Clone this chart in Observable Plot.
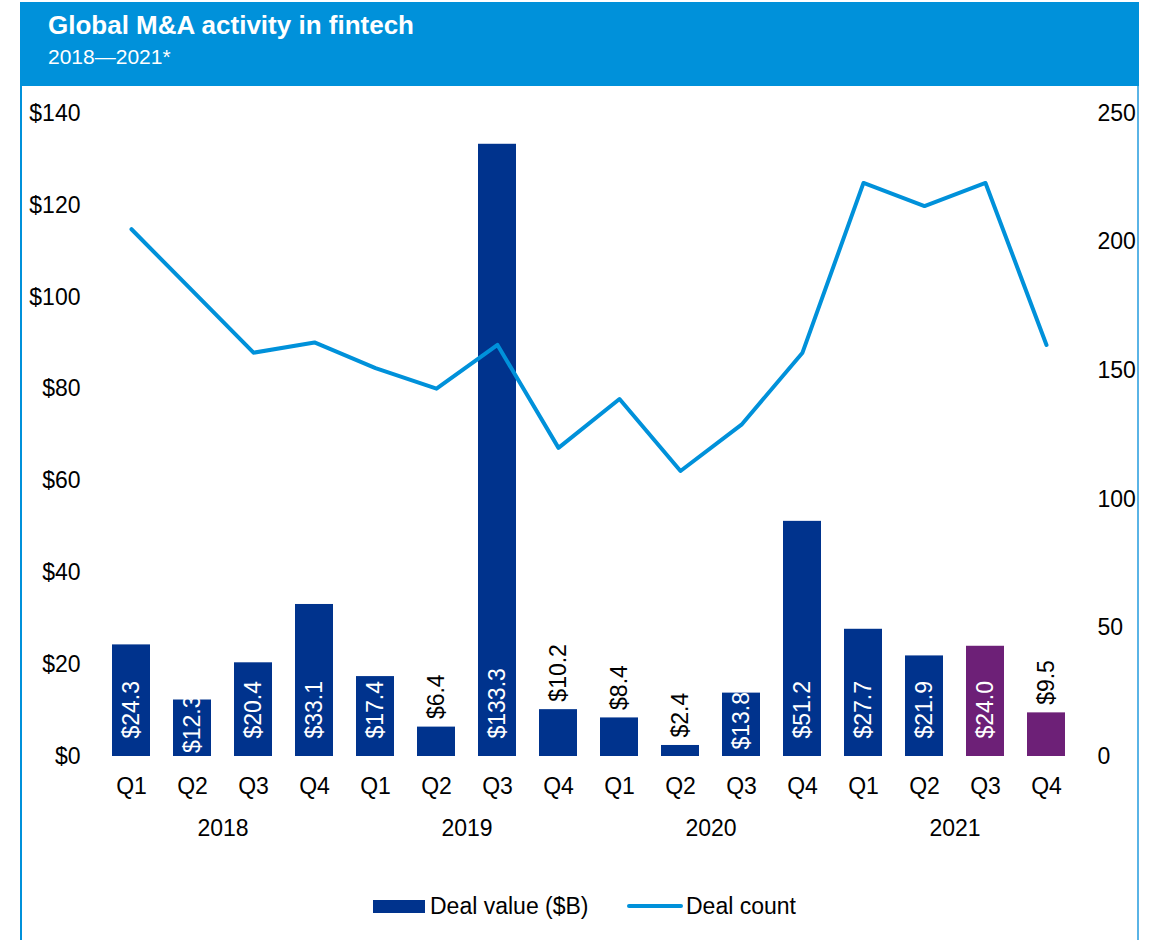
<!DOCTYPE html>
<html>
<head>
<meta charset="utf-8">
<script src="https://cdn.jsdelivr.net/npm/d3@7"></script>
<script src="https://cdn.jsdelivr.net/npm/@observablehq/plot@0.6"></script>
<style>
  html, body { margin: 0; padding: 0; background: #fff; width: 1158px; height: 940px; overflow: hidden; }
  body { position: relative; font-family: "Liberation Sans", Arial, sans-serif; }
  #header { position: absolute; left: 20px; top: 2px; width: 1119px; height: 84px; background: #0091DA; color: #fff; }
  #title { position: absolute; left: 28px; top: 8px; font-size: 26px; font-weight: bold; white-space: nowrap; }
  #subtitle { position: absolute; left: 28px; top: 43px; font-size: 21px; white-space: nowrap; }
  #borderL { position: absolute; left: 20px; top: 86px; width: 1.5px; height: 854px; background: #0091DA; }
  #borderR { position: absolute; left: 1137px; top: 86px; width: 2px; height: 854px; background: #5AB4E6; }
  #chart { position: absolute; left: 0; top: 87px; }
  #legend { position: absolute; left: 0; top: 893px; width: 1158px; height: 30px; font-size: 23px; color: #000; }
  .sw { position: absolute; }
  .lt { position: absolute; top: 0px; white-space: nowrap; line-height: 26px; }
</style>
</head>
<body>
<div id="header"><div id="title"></div><div id="subtitle"></div></div>
<div id="borderL"></div><div id="borderR"></div>
<div id="chart"></div>
<div id="legend"></div>
<script>
// ---- data ----
const titleText = "Global M&A activity in fintech";
const subtitleText = "2018\u20142021*";
const years = ["2018", "2019", "2020", "2021"];
const quarters = ["Q1", "Q2", "Q3", "Q4"];
const dealValue = [24.3, 12.3, 20.4, 33.1, 17.4, 6.4, 133.3, 10.2, 8.4, 2.4, 13.8, 51.2, 27.7, 21.9, 24.0, 9.5];
const dealCount = [205, 181, 157, 161, 151, 143, 160, 120, 139, 111, 129, 157, 223, 214, 223, 160];
const highlighted = ["2021 Q3", "2021 Q4"];
const valueTicks = [0, 20, 40, 60, 80, 100, 120, 140];
const countTicks = [0, 50, 100, 150, 200, 250];
const legendLabels = ["Deal value ($B)", "Deal count"];

// ---- styles ----
const BLUE = "#00338D", PURPLE = "#6D2077", LINE = "#0091DA";
const FONT = "Liberation Sans, Arial, sans-serif";
const FS = 23;
const W = 1158, H = 760, ML = 89, MR = 70, MT = 26, MB = 91, PAD = 0.377;
const valueMax = 140, countMax = 250;

const periods = years.flatMap(y => quarters.map(q => `${y} ${q}`));
const data = periods.map((p, i) => ({period: p, value: dealValue[i], count: dealCount[i]}));
const step = (W - ML - MR) / (periods.length + PAD);
const fmt = v => "$" + v.toFixed(1);

document.getElementById("title").textContent = titleText;
document.getElementById("subtitle").textContent = subtitleText;

const plot = Plot.plot({
  width: W, height: H,
  marginLeft: ML, marginRight: MR, marginTop: MT, marginBottom: MB,
  style: {fontFamily: FONT, fontSize: FS + "px", color: "#000", background: "transparent"},
  x: {type: "band", domain: periods, padding: PAD},
  y: {domain: [0, valueMax]},
  marks: [
    Plot.barY(data, {x: "period", y: "value", fill: d => highlighted.includes(d.period) ? PURPLE : BLUE}),
    Plot.line(data, {x: "period", y: d => d.count * valueMax / countMax, stroke: LINE, strokeWidth: 4, strokeLinejoin: "round", strokeLinecap: "round"}),
    // labels inside the tall bars (from the base)
    Plot.text(data.filter(d => d.value >= 17), {x: "period", y: 0, text: d => fmt(d.value), rotate: -90, textAnchor: "start", dy: -18, fill: "#fff", fontSize: FS}),
    // labels inside the medium bars (centred)
    Plot.text(data.filter(d => d.value > 11 && d.value < 17), {x: "period", y: d => d.value / 2, text: d => fmt(d.value), rotate: -90, textAnchor: "middle", dy: -4, fill: "#fff", fontSize: FS}),
    // labels above small bars
    Plot.text(data.filter(d => d.value <= 11), {x: "period", y: "value", text: d => fmt(d.value), rotate: -90, textAnchor: "start", dy: -8, fill: "#000", fontSize: FS}),
    Plot.axisX({tickSize: 0, tickPadding: 21, tickFormat: d => d.split(" ")[1], fontSize: FS, label: null}),
    Plot.text(years, {x: y => `${y} Q2`, y: 0, dx: step / 2, dy: 72, text: d => d, fontSize: FS, fill: "#000", lineAnchor: "middle"}),
    Plot.axisY(valueTicks, {anchor: "left", tickSize: 0, tickPadding: 9, tickFormat: d => "$" + d, fontSize: FS, label: null}),
    Plot.axisY(countTicks.map(c => c * valueMax / countMax), {anchor: "right", tickSize: 0, tickPadding: 9, tickFormat: d => String(Math.round(d * countMax / valueMax)), fontSize: FS, label: null})
  ]
});
document.getElementById("chart").appendChild(plot);

// ---- legend ----
const lg = document.getElementById("legend");
lg.innerHTML = `
  <div class="sw" style="left:373px; top:7px; width:52px; height:13px; background:${BLUE}"></div>
  <div class="lt" style="left:430px;">${legendLabels[0]}</div>
  <svg class="sw" style="left:626px; top:8px;" width="58" height="10"><line x1="3" y1="5" x2="55" y2="5" stroke="${LINE}" stroke-width="4" stroke-linecap="round"/></svg>
  <div class="lt" style="left:686px;">${legendLabels[1]}</div>`;
</script>
</body>
</html>
